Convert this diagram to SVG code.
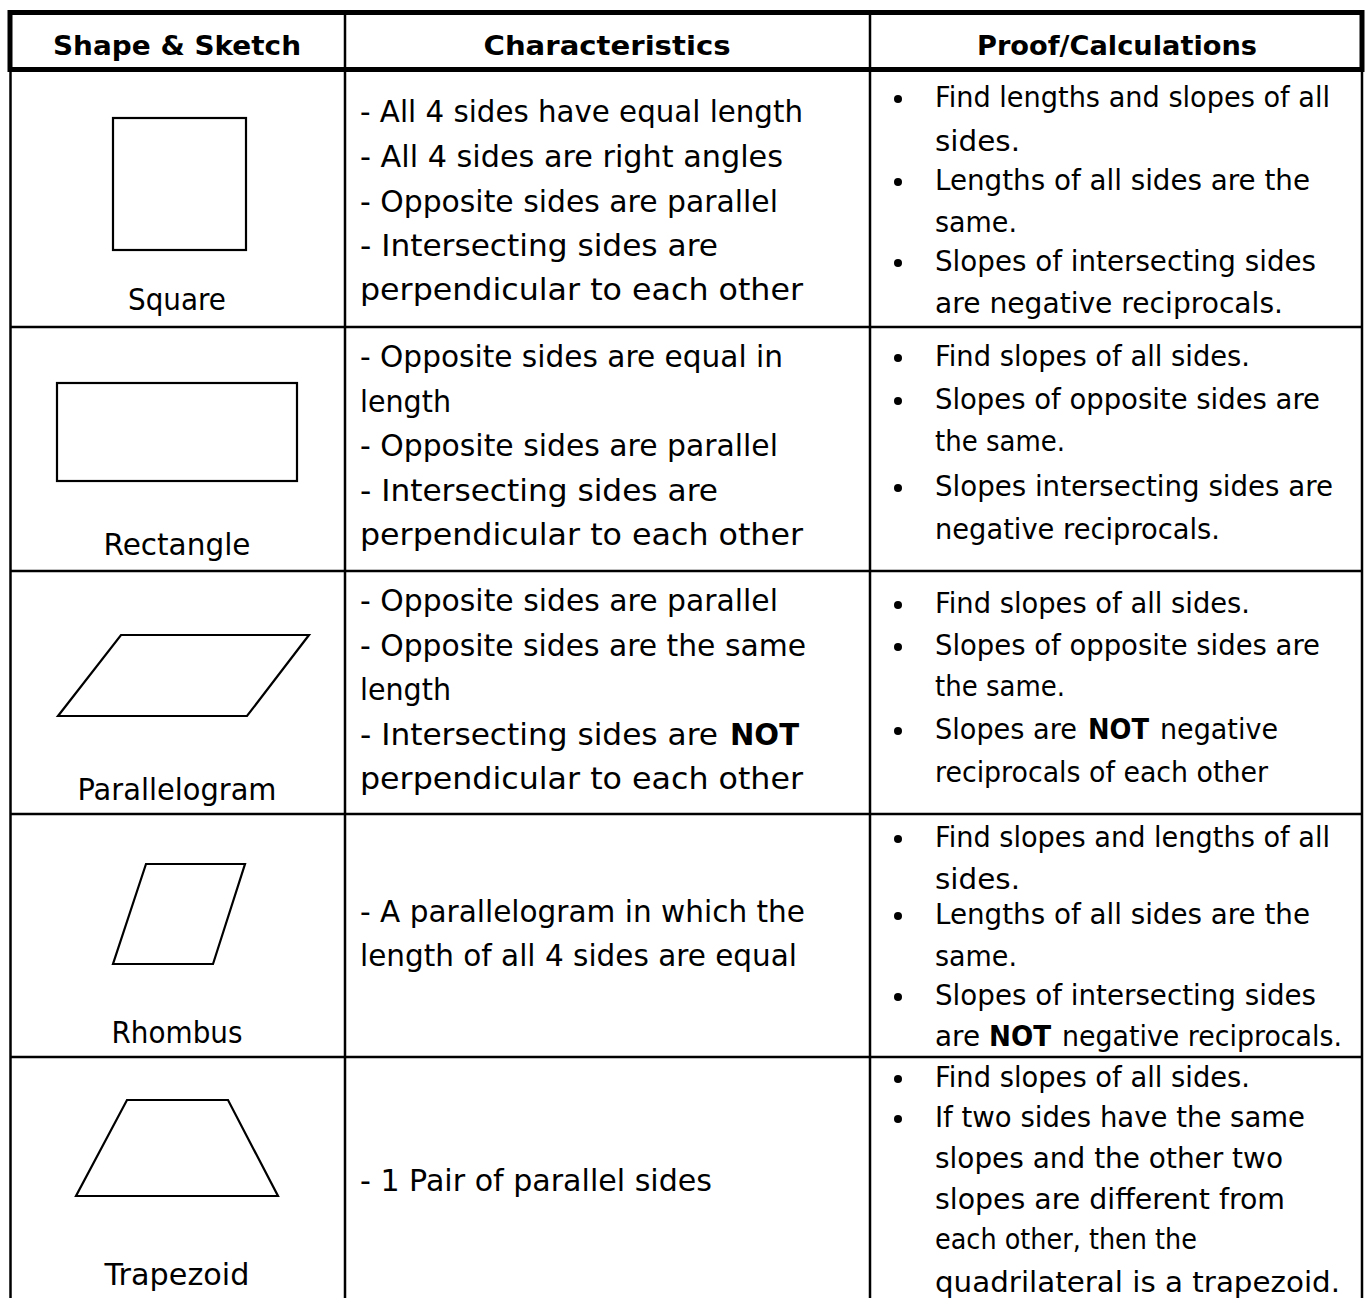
<svg xmlns="http://www.w3.org/2000/svg" width="1367" height="1298" viewBox="0 0 1367 1298">
<style>
.t{font-family:"Comic Sans MS","DejaVu Sans",sans-serif;fill:#000}
.h{font-size:27px;font-weight:bold}
.c{font-size:31px}
.p{font-size:28.5px}
.b{font-weight:bold}
.g{stroke:#000;stroke-width:2.5;fill:none}
.k{stroke:#000;stroke-width:5;fill:none}
.s{stroke:#000;stroke-width:2.2;fill:none;stroke-linejoin:miter}
</style>
<rect width="1367" height="1298" fill="#fff"/>
<g id="grid">
<line class="g" x1="10.5" y1="70" x2="10.5" y2="1298"/>
<line class="g" x1="345" y1="12" x2="345" y2="1298"/>
<line class="g" x1="870" y1="12" x2="870" y2="1298"/>
<line class="g" x1="1362" y1="70" x2="1362" y2="1298"/>
<line class="g" x1="10" y1="327" x2="1362" y2="327"/>
<line class="g" x1="10" y1="571" x2="1362" y2="571"/>
<line class="g" x1="10" y1="814" x2="1362" y2="814"/>
<line class="g" x1="10" y1="1057" x2="1362" y2="1057"/>
<rect class="k" x="10" y="12.5" width="1352" height="57"/>
</g>
<g id="header" class="t h" text-anchor="middle">
<text x="177" y="55" textLength="248" lengthAdjust="spacingAndGlyphs">Shape &amp; Sketch</text>
<text x="607" y="55" textLength="247" lengthAdjust="spacingAndGlyphs">Characteristics</text>
<text x="1117" y="55" textLength="280" lengthAdjust="spacingAndGlyphs">Proof/Calculations</text>
</g>
<g id="square">
<rect class="s" x="113" y="118" width="133" height="132"/>
<text class="t c" x="177" y="310" text-anchor="middle" textLength="98" lengthAdjust="spacingAndGlyphs">Square</text>
<g class="t c">
<text x="360" y="122" textLength="443" lengthAdjust="spacingAndGlyphs">- All 4 sides have equal length</text>
<text x="360" y="167" textLength="423" lengthAdjust="spacingAndGlyphs">- All 4 sides are right angles</text>
<text x="360" y="212" textLength="418" lengthAdjust="spacingAndGlyphs">- Opposite sides are parallel</text>
<text x="360" y="256" textLength="358" lengthAdjust="spacingAndGlyphs">- Intersecting sides are</text>
<text x="360" y="300" textLength="443" lengthAdjust="spacingAndGlyphs">perpendicular to each other</text>
</g>
<g class="t p">
<circle cx="898" cy="99" r="4"/><circle cx="898" cy="182" r="4"/><circle cx="898" cy="263" r="4"/>
<text x="935" y="107" textLength="395" lengthAdjust="spacingAndGlyphs">Find lengths and slopes of all</text>
<text x="935" y="151" textLength="85" lengthAdjust="spacingAndGlyphs">sides.</text>
<text x="935" y="190" textLength="375" lengthAdjust="spacingAndGlyphs">Lengths of all sides are the</text>
<text x="935" y="232" textLength="82" lengthAdjust="spacingAndGlyphs">same.</text>
<text x="935" y="271" textLength="381" lengthAdjust="spacingAndGlyphs">Slopes of intersecting sides</text>
<text x="935" y="313" textLength="348" lengthAdjust="spacingAndGlyphs">are negative reciprocals.</text>
</g>
</g>
<g id="rectangle">
<rect class="s" x="57" y="383" width="240" height="98"/>
<text class="t c" x="177" y="555" text-anchor="middle" textLength="147" lengthAdjust="spacingAndGlyphs">Rectangle</text>
<g class="t c">
<text x="360" y="367" textLength="423" lengthAdjust="spacingAndGlyphs">- Opposite sides are equal in</text>
<text x="360" y="412" textLength="91" lengthAdjust="spacingAndGlyphs">length</text>
<text x="360" y="456" textLength="418" lengthAdjust="spacingAndGlyphs">- Opposite sides are parallel</text>
<text x="360" y="501" textLength="358" lengthAdjust="spacingAndGlyphs">- Intersecting sides are</text>
<text x="360" y="545" textLength="443" lengthAdjust="spacingAndGlyphs">perpendicular to each other</text>
</g>
<g class="t p">
<circle cx="898" cy="358" r="4"/><circle cx="898" cy="401" r="4"/><circle cx="898" cy="488" r="4"/>
<text x="935" y="366" textLength="315" lengthAdjust="spacingAndGlyphs">Find slopes of all sides.</text>
<text x="935" y="409" textLength="385" lengthAdjust="spacingAndGlyphs">Slopes of opposite sides are</text>
<text x="935" y="451" textLength="130" lengthAdjust="spacingAndGlyphs">the same.</text>
<text x="935" y="496" textLength="398" lengthAdjust="spacingAndGlyphs">Slopes intersecting sides are</text>
<text x="935" y="539" textLength="285" lengthAdjust="spacingAndGlyphs">negative reciprocals.</text>
</g>
</g>
<g id="parallelogram">
<polygon class="s" points="121,635 309,635 247,716 58,716"/>
<text class="t c" x="177" y="800" text-anchor="middle" textLength="199" lengthAdjust="spacingAndGlyphs">Parallelogram</text>
<g class="t c">
<text x="360" y="611" textLength="418" lengthAdjust="spacingAndGlyphs">- Opposite sides are parallel</text>
<text x="360" y="656" textLength="446" lengthAdjust="spacingAndGlyphs">- Opposite sides are the same</text>
<text x="360" y="700" textLength="91" lengthAdjust="spacingAndGlyphs">length</text>
<text x="360" y="745" textLength="358" lengthAdjust="spacingAndGlyphs">- Intersecting sides are</text>
<text class="b" x="730" y="745" textLength="69" lengthAdjust="spacingAndGlyphs">NOT</text>
<text x="360" y="789" textLength="443" lengthAdjust="spacingAndGlyphs">perpendicular to each other</text>
</g>
<g class="t p">
<circle cx="898" cy="605" r="4"/><circle cx="898" cy="647" r="4"/><circle cx="898" cy="731" r="4"/>
<text x="935" y="613" textLength="315" lengthAdjust="spacingAndGlyphs">Find slopes of all sides.</text>
<text x="935" y="655" textLength="385" lengthAdjust="spacingAndGlyphs">Slopes of opposite sides are</text>
<text x="935" y="696" textLength="130" lengthAdjust="spacingAndGlyphs">the same.</text>
<text x="935" y="739" textLength="142" lengthAdjust="spacingAndGlyphs">Slopes are</text>
<text class="b" x="1088" y="739" textLength="61" lengthAdjust="spacingAndGlyphs">NOT</text>
<text x="1160" y="739" textLength="118" lengthAdjust="spacingAndGlyphs">negative</text>
<text x="935" y="782" textLength="333" lengthAdjust="spacingAndGlyphs">reciprocals of each other</text>
</g>
</g>
<g id="rhombus">
<polygon class="s" points="146,864 245,864 213,964 113,964"/>
<text class="t c" x="177" y="1043" text-anchor="middle" textLength="131" lengthAdjust="spacingAndGlyphs">Rhombus</text>
<g class="t c">
<text x="360" y="922" textLength="445" lengthAdjust="spacingAndGlyphs">- A parallelogram in which the</text>
<text x="360" y="966" textLength="437" lengthAdjust="spacingAndGlyphs">length of all 4 sides are equal</text>
</g>
<g class="t p">
<circle cx="898" cy="839" r="4"/><circle cx="898" cy="916" r="4"/><circle cx="898" cy="997" r="4"/>
<text x="935" y="847" textLength="395" lengthAdjust="spacingAndGlyphs">Find slopes and lengths of all</text>
<text x="935" y="889" textLength="85" lengthAdjust="spacingAndGlyphs">sides.</text>
<text x="935" y="924" textLength="375" lengthAdjust="spacingAndGlyphs">Lengths of all sides are the</text>
<text x="935" y="966" textLength="82" lengthAdjust="spacingAndGlyphs">same.</text>
<text x="935" y="1005" textLength="381" lengthAdjust="spacingAndGlyphs">Slopes of intersecting sides</text>
<text x="935" y="1046" textLength="45" lengthAdjust="spacingAndGlyphs">are</text>
<text class="b" x="989" y="1046" textLength="62" lengthAdjust="spacingAndGlyphs">NOT</text>
<text x="1062" y="1046" textLength="280" lengthAdjust="spacingAndGlyphs">negative reciprocals.</text>
</g>
</g>
<g id="trapezoid">
<polygon class="s" points="127,1100 228,1100 278,1196 76,1196"/>
<text class="t c" x="177" y="1285" text-anchor="middle" textLength="145" lengthAdjust="spacingAndGlyphs">Trapezoid</text>
<g class="t c">
<text x="360" y="1191" textLength="352" lengthAdjust="spacingAndGlyphs">- 1 Pair of parallel sides</text>
</g>
<g class="t p">
<circle cx="898" cy="1079" r="4"/><circle cx="898" cy="1119" r="4"/>
<text x="935" y="1087" textLength="315" lengthAdjust="spacingAndGlyphs">Find slopes of all sides.</text>
<text x="935" y="1127" textLength="370" lengthAdjust="spacingAndGlyphs">If two sides have the same</text>
<text x="935" y="1168" textLength="348" lengthAdjust="spacingAndGlyphs">slopes and the other two</text>
<text x="935" y="1209" textLength="350" lengthAdjust="spacingAndGlyphs">slopes are different from</text>
<text x="935" y="1249" textLength="262" lengthAdjust="spacingAndGlyphs">each other, then the</text>
<text x="935" y="1292" textLength="405" lengthAdjust="spacingAndGlyphs">quadrilateral is a trapezoid.</text>
</g>
</g>
</svg>
